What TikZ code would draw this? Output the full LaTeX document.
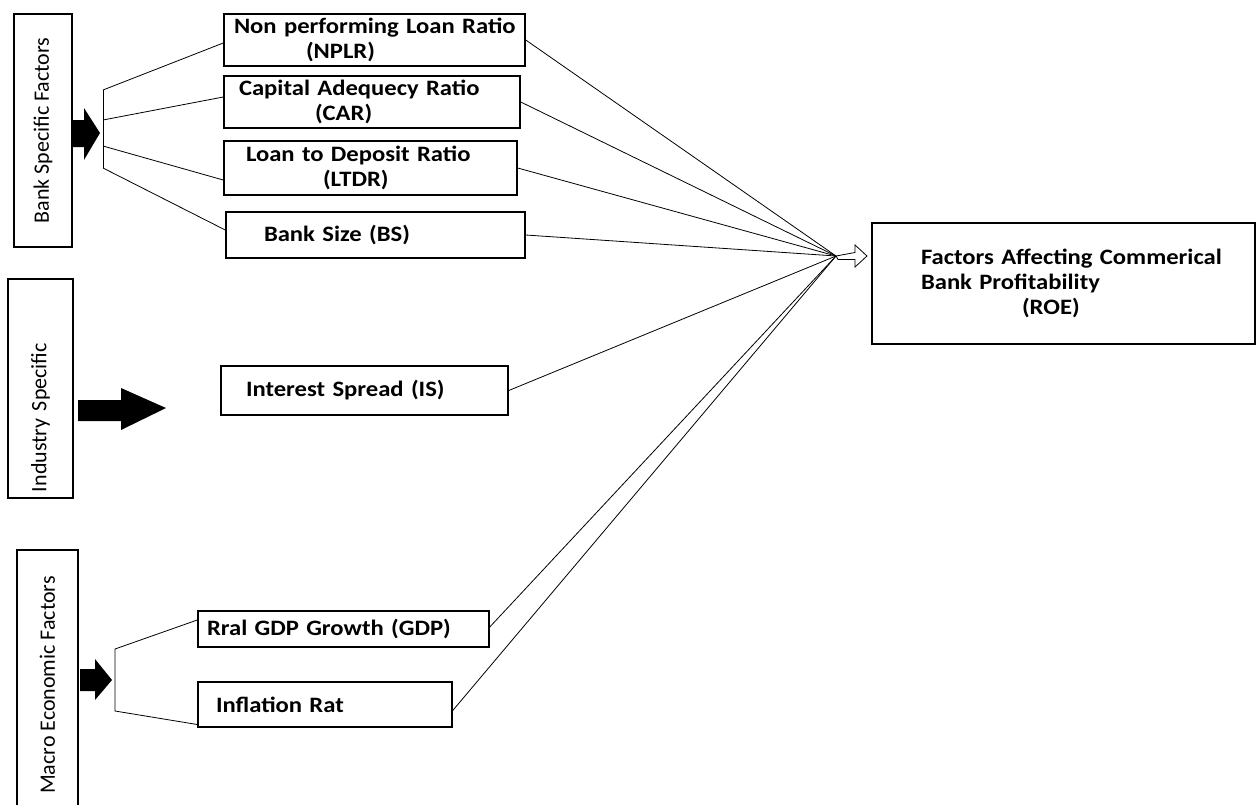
\documentclass[tikz,border=0pt]{standalone}
\usepackage{fontspec}
\setmainfont{Carlito}
\newfontfamily\boxfont[FakeStretch=1.12]{Carlito}

\begin{document}
\begin{tikzpicture}[x=1pt,y=-1pt,
  groupbox/.style={draw, line width=1.5pt, rotate=90, inner sep=0pt,
    font=\fontsize{22}{25}\selectfont},
  factorbox/.style={draw, line width=1.5pt, align=left, inner ysep=0pt,
    font=\boxfont\bfseries\fontsize{22}{25}\selectfont},
  link/.style={line width=0.8pt}]
  % \draw[help lines] (0,0) grid[step=50] (1258,804);
  \useasboundingbox (0,0) rectangle (1258,804);

  % group boxes
  \node[groupbox, minimum width=233pt, minimum height=58pt] (bank) at (43,130.5) {Bank Specific Factors};
  \node[groupbox, minimum width=219pt, minimum height=65pt, text width=207pt,
    inner xsep=6pt, align=left] (industry) at (40.5,388.5) {Industry Specific};
  \node[groupbox, minimum width=270pt, minimum height=61pt] (macro) at (47.5,685) {Macro Economic Factors};

  % factor boxes
  \node[factorbox, text width=281pt, inner xsep=10pt, minimum height=52pt] (nplr) at (374.5,40)
    {\mbox{Non performing Loan Ratio}\\\hspace*{72pt}(NPLR)};
  \node[factorbox, text width=266pt, inner xsep=15pt, minimum height=52pt] (car) at (372,102)
    {\mbox{Capital Adequecy Ratio}\\\hspace*{76pt}(CAR)};
  \node[factorbox, text width=249pt, inner xsep=22pt, minimum height=54pt] (ltdr) at (370.5,168)
    {\mbox{Loan to Deposit Ratio}\\\hspace*{77pt}(LTDR)};
  \node[factorbox, text width=223pt, inner xsep=38pt, minimum height=46pt] (bs) at (375.5,235)
    {Bank Size (BS)};
  \node[factorbox, text width=237pt, inner xsep=25pt, minimum height=49pt] (is) at (364.5,390.5)
    {Interest Spread (IS)};
  \node[factorbox, text width=273pt, inner xsep=9pt, minimum height=36pt] (gdp) at (343.5,629)
    {Rral GDP Growth (GDP)};
  \node[factorbox, text width=218pt, inner xsep=18pt, minimum height=45pt] (infl) at (325,704.5)
    {Inflation Rat};
  \node[factorbox, text width=285pt, inner xsep=49pt, minimum height=121pt] (roe) at (1063.5,283.5)
    {\mbox{Factors Affecting Commerical}\\Bank Profitability\\\hspace*{101pt}(ROE)};

  % fat arrows
  \fill (73,120) -- (84,120) -- (84,108) -- (100,133) -- (84,160) -- (84,147) -- (73,147) -- cycle;
  \fill (78,400) -- (121,400) -- (121,388) -- (166,408) -- (121,430) -- (121,421) -- (78,421) -- cycle;
  \fill (80,669) -- (95,669) -- (95,659) -- (112,680) -- (95,700) -- (95,691) -- (80,691) -- cycle;

  % bank bracket
  \coordinate (bank-a) at (103,90);
  \coordinate (bank-b) at (103,120);
  \coordinate (bank-c) at (103,146);
  \coordinate (bank-d) at (103,168);
  \draw[link] (bank-a) -- (bank-d);
  \draw[link] (bank-a) -- ([yshift=-3pt]nplr.west);
  \draw[link] (bank-b) -- ([yshift=5pt]car.west);
  \draw[link] (bank-c) -- ([yshift=-12pt]ltdr.west);
  \draw[link] (bank-d) -- ([yshift=5pt]bs.west);

  % macro bracket
  \coordinate (macro-a) at (115,649);
  \coordinate (macro-b) at (115,711);
  \draw[link] ([yshift=9pt]gdp.west) -- (macro-a) -- (macro-b) -- ([yshift=-20pt]infl.west);

  % lines into the hub
  \coordinate (hub) at (836,256);
  \foreach \n in {nplr,car,ltdr,bs,is}
    \draw[link] (\n.east) -- (hub);
  \draw[link] ([yshift=2pt]gdp.east) -- (hub);
  \draw[link] ([yshift=-6pt]infl.east) -- (hub);

  % hollow arrow to the result
  \draw[link, fill=white] (hub) -- (855,252.5) -- (855,245) -- (867,256) -- (855,267)
    -- (855,259.5) -- (838,259.5) -- cycle;

\end{tikzpicture}
\end{document}
